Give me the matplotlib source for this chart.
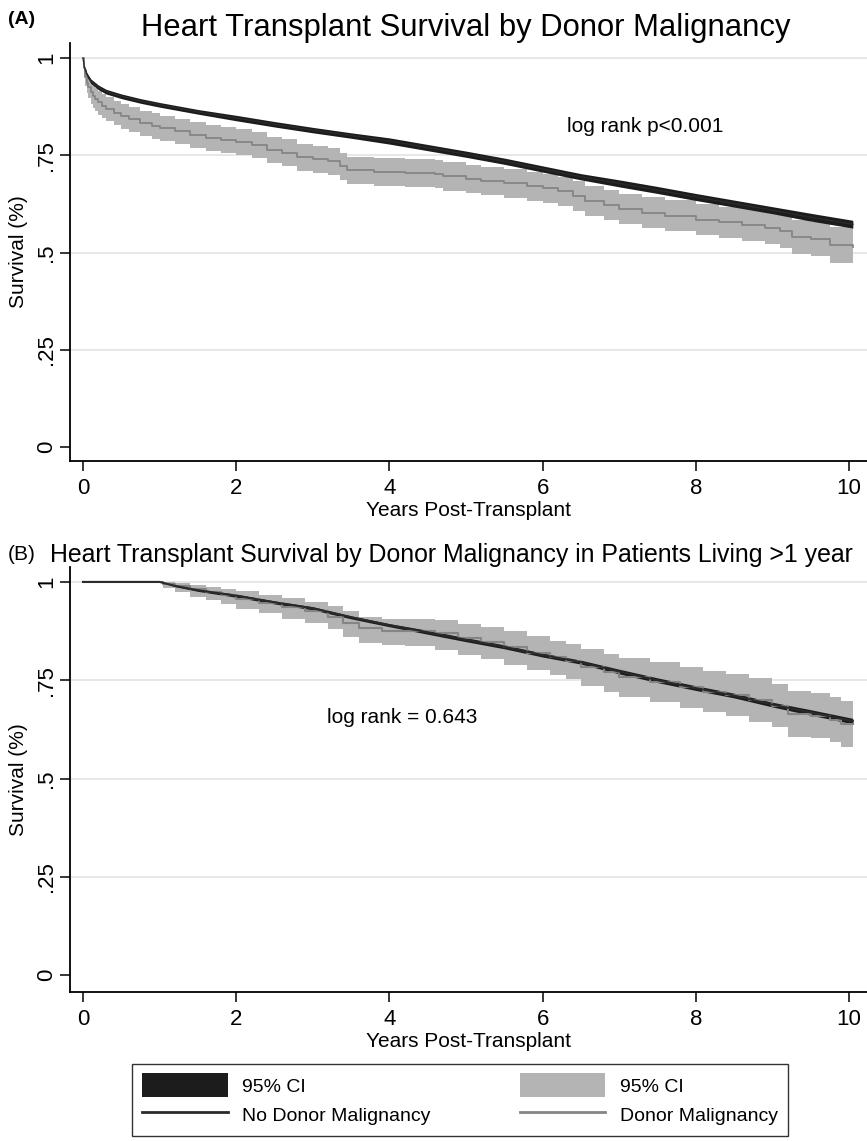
import matplotlib
matplotlib.use("Agg")
import matplotlib.pyplot as plt
from matplotlib.patches import Patch
from matplotlib.lines import Line2D

plt.rcParams['font.family'] = ['Liberation Sans', 'DejaVu Sans']

# Panel A - no donor malignancy (smooth KM, narrow CI)
a_none_t = [0, 0.02, 0.05, 0.1, 0.2, 0.3, 0.5, 0.75, 1.0, 1.5, 2.0, 2.5, 3.0, 3.5, 4.0,
            4.5, 5.0, 5.5, 6.0, 6.5, 7.0, 7.5, 8.0, 8.5, 9.0, 9.5, 10.05]
a_none_s = [1.0, 0.975, 0.958, 0.941, 0.925, 0.914, 0.902, 0.890, 0.880, 0.862, 0.846, 0.830,
            0.815, 0.801, 0.787, 0.770, 0.753, 0.735, 0.715, 0.695, 0.678, 0.661, 0.643, 0.626,
            0.609, 0.591, 0.573]
a_none_lo = [1.0, 0.971, 0.953, 0.935, 0.919, 0.908, 0.896, 0.884, 0.874, 0.856, 0.839, 0.823,
             0.808, 0.794, 0.779, 0.762, 0.745, 0.727, 0.707, 0.687, 0.669, 0.652, 0.634, 0.617,
             0.600, 0.581, 0.563]
a_none_hi = [1.0, 0.979, 0.963, 0.947, 0.931, 0.920, 0.908, 0.896, 0.886, 0.868, 0.853, 0.837,
             0.822, 0.808, 0.795, 0.778, 0.761, 0.743, 0.723, 0.703, 0.687, 0.670, 0.652, 0.635,
             0.618, 0.601, 0.583]

# Panel A - donor malignancy (step KM, wide CI)
a_dm_t = [0, 0.01, 0.03, 0.05, 0.07, 0.1, 0.13, 0.16, 0.2, 0.25, 0.3, 0.4, 0.5, 0.6, 0.75,
          0.9, 1.0, 1.2, 1.4, 1.6, 1.8, 2.0, 2.2, 2.4, 2.6, 2.8, 3.0, 3.2, 3.35, 3.45, 3.8,
          4.2, 4.6, 4.7, 5.0, 5.2, 5.5, 5.8, 6.0, 6.2, 6.4, 6.55, 6.8, 7.0, 7.3, 7.6, 8.0,
          8.3, 8.6, 8.9, 9.1, 9.25, 9.5, 9.75, 10.05]
a_dm_s = [1.0, 0.975, 0.952, 0.937, 0.925, 0.912, 0.902, 0.894, 0.886, 0.878, 0.870, 0.860,
          0.850, 0.843, 0.833, 0.826, 0.820, 0.812, 0.803, 0.795, 0.790, 0.784, 0.776, 0.764,
          0.757, 0.745, 0.740, 0.735, 0.722, 0.712, 0.708, 0.705, 0.702, 0.696, 0.690, 0.685,
          0.678, 0.671, 0.666, 0.658, 0.645, 0.632, 0.622, 0.612, 0.603, 0.595, 0.585, 0.578,
          0.571, 0.563, 0.556, 0.540, 0.535, 0.520, 0.515]
a_dm_lo = [1.0, 0.955, 0.928, 0.910, 0.897, 0.883, 0.872, 0.863, 0.855, 0.846, 0.838, 0.828,
           0.818, 0.811, 0.800, 0.793, 0.787, 0.779, 0.770, 0.762, 0.756, 0.750, 0.742, 0.730,
           0.722, 0.710, 0.705, 0.700, 0.686, 0.676, 0.672, 0.669, 0.665, 0.659, 0.653, 0.648,
           0.640, 0.633, 0.628, 0.620, 0.606, 0.593, 0.583, 0.573, 0.563, 0.555, 0.544, 0.537,
           0.529, 0.521, 0.513, 0.496, 0.490, 0.472, 0.467]
a_dm_hi = [1.0, 0.990, 0.973, 0.960, 0.950, 0.938, 0.929, 0.922, 0.915, 0.907, 0.900, 0.890,
           0.881, 0.874, 0.865, 0.858, 0.852, 0.844, 0.836, 0.828, 0.823, 0.817, 0.809, 0.798,
           0.791, 0.779, 0.774, 0.769, 0.757, 0.747, 0.743, 0.740, 0.738, 0.732, 0.726, 0.721,
           0.715, 0.708, 0.703, 0.695, 0.683, 0.670, 0.660, 0.651, 0.642, 0.634, 0.625, 0.618,
           0.612, 0.604, 0.598, 0.583, 0.579, 0.566, 0.562]

# Panel B - patients living > 1 year
b_none_t = [0, 1.0, 1.2, 1.5, 2.0, 2.5, 3.0, 3.5, 4.0, 4.5, 5.0, 5.5, 6.0, 6.5, 7.0, 7.5,
            8.0, 8.5, 9.0, 9.5, 10.05]
b_none_s = [1.0, 1.0, 0.990, 0.979, 0.965, 0.948, 0.933, 0.910, 0.890, 0.872, 0.853, 0.835,
            0.814, 0.796, 0.772, 0.750, 0.730, 0.711, 0.688, 0.668, 0.646]
b_none_lo = [1.0, 1.0, 0.988, 0.976, 0.961, 0.944, 0.929, 0.906, 0.886, 0.867, 0.848, 0.830,
             0.809, 0.791, 0.766, 0.744, 0.724, 0.705, 0.682, 0.661, 0.639]
b_none_hi = [1.0, 1.0, 0.992, 0.982, 0.969, 0.952, 0.937, 0.914, 0.894, 0.877, 0.858, 0.840,
             0.819, 0.801, 0.778, 0.756, 0.736, 0.717, 0.694, 0.675, 0.653]

b_dm_t = [0, 1.0, 1.05, 1.2, 1.4, 1.6, 1.8, 2.0, 2.3, 2.6, 2.9, 3.2, 3.4, 3.6, 3.9, 4.2,
          4.6, 4.9, 5.2, 5.5, 5.8, 6.1, 6.3, 6.5, 6.8, 7.0, 7.4, 7.8, 8.1, 8.4, 8.7, 9.0,
          9.2, 9.5, 9.75, 9.9, 10.05]
b_dm_s = [1.0, 1.0, 0.995, 0.990, 0.982, 0.975, 0.966, 0.957, 0.946, 0.935, 0.925, 0.912,
          0.895, 0.882, 0.876, 0.874, 0.869, 0.858, 0.848, 0.835, 0.820, 0.810, 0.800, 0.784,
          0.770, 0.758, 0.746, 0.732, 0.721, 0.712, 0.700, 0.685, 0.664, 0.660, 0.650, 0.638,
          0.638]
b_dm_lo = [1.0, 1.0, 0.985, 0.975, 0.962, 0.955, 0.945, 0.932, 0.920, 0.906, 0.895, 0.880,
           0.860, 0.845, 0.840, 0.837, 0.828, 0.815, 0.805, 0.790, 0.775, 0.763, 0.752, 0.735,
           0.720, 0.707, 0.694, 0.679, 0.668, 0.658, 0.645, 0.630, 0.606, 0.602, 0.592, 0.580,
           0.580]
b_dm_hi = [1.0, 1.0, 1.0, 0.998, 0.993, 0.988, 0.982, 0.976, 0.967, 0.958, 0.950, 0.939,
           0.925, 0.912, 0.907, 0.905, 0.902, 0.893, 0.886, 0.875, 0.862, 0.851, 0.843, 0.829,
           0.817, 0.807, 0.796, 0.784, 0.774, 0.766, 0.755, 0.741, 0.722, 0.718, 0.708, 0.696,
           0.686]

yticks = [0, 0.25, 0.5, 0.75, 1]
ytick_labels = ["0", ".25", ".5", ".75", "1"]
xticks = [0, 2, 4, 6, 8, 10]

dark_ci = "#1c1c1c"
dark_line = "#2a2a2a"
gray_ci = "#b4b4b4"
gray_line = "#858585"

fig = plt.figure(figsize=(8.67, 11.41), dpi=100)
W, H = 867.0, 1141.0

def style_axes(ax, ylo, yhi):
    ax.set_xlim(-0.17, 10.235)
    ax.set_ylim(ylo, yhi)
    ax.set_yticks(yticks)
    ax.set_yticklabels(ytick_labels, rotation=90, va='center')
    ax.set_xticks(xticks)
    ax.tick_params(axis='both', labelsize=16, length=7, width=1.1, color='black')
    ax.tick_params(axis='y', pad=2)
    ax.tick_params(axis='x', pad=5)
    for s in ['top', 'right']:
        ax.spines[s].set_visible(False)
    for s in ['left', 'bottom']:
        ax.spines[s].set_linewidth(1.3)
    for y in yticks[1:]:
        ax.axhline(y, color='#e3e3e3', lw=1.2, zorder=0)
    ax.set_xlabel("Years Post-Transplant", fontsize=15, labelpad=2)
    ax.set_ylabel("Survival (%)", fontsize=15, labelpad=6)

axA = fig.add_axes([70 / W, 1 - 461 / H, (W - 70) / W, (461 - 43) / H])
axA.fill_between(a_dm_t, a_dm_lo, a_dm_hi, step='post', color=gray_ci, lw=0, zorder=2)
axA.fill_between(a_none_t, a_none_lo, a_none_hi, color=dark_ci, lw=0, zorder=3)
axA.plot(a_dm_t, a_dm_s, drawstyle='steps-post', color=gray_line, lw=1.3, zorder=4)
axA.plot(a_none_t, a_none_s, color=dark_line, lw=1.0, zorder=5)
axA.text(6.32, 0.823, "log rank p<0.001", fontsize=15, va='center', ha='left')
style_axes(axA, -0.036, 1.039)

axB = fig.add_axes([70 / W, 1 - 992 / H, (W - 70) / W, (992 - 567) / H])
axB.fill_between(b_dm_t, b_dm_lo, b_dm_hi, step='post', color=gray_ci, lw=0, zorder=2)
axB.fill_between(b_none_t, b_none_lo, b_none_hi, color=dark_ci, lw=0, zorder=3)
axB.plot(b_dm_t, b_dm_s, drawstyle='steps-post', color=gray_line, lw=1.5, zorder=4)
axB.plot(b_none_t, b_none_s, color=dark_line, lw=1.5, zorder=5)
axB.text(3.19, 0.656, "log rank = 0.643", fontsize=15, va='center', ha='left')
style_axes(axB, -0.043, 1.038)

fig.text(8 / W, 1 - 20 / H, "(A)", fontsize=14, fontweight='bold', va='center', ha='left')
fig.text(466 / W, 1 - 28 / H, "Heart Transplant Survival by Donor Malignancy",
         fontsize=22.3, va='center', ha='center')
fig.text(8 / W, 1 - 555 / H, "(B)", fontsize=15, va='center', ha='left')
fig.text(50 / W, 1 - 555 / H,
         "Heart Transplant Survival by Donor Malignancy in Patients Living >1 year",
         fontsize=17.9, va='center', ha='left')

handles = [Patch(facecolor=dark_ci, edgecolor='none'),
           Line2D([], [], color=dark_line, lw=2),
           Patch(facecolor=gray_ci, edgecolor='none'),
           Line2D([], [], color=gray_line, lw=2)]
labels = ["95% CI", "No Donor Malignancy", "95% CI", "Donor Malignancy"]
leg = fig.legend(handles, labels, ncol=2, loc='center',
                 bbox_to_anchor=(460 / W, 1 - 1100 / H), fontsize=14,
                 frameon=True, fancybox=False, edgecolor='black',
                 handlelength=4.4, handleheight=1.5, handletextpad=0.75,
                 columnspacing=4.6, borderpad=0.5, labelspacing=0.3)
leg.get_frame().set_linewidth(1.0)

fig.savefig("out.png", dpi=100)
